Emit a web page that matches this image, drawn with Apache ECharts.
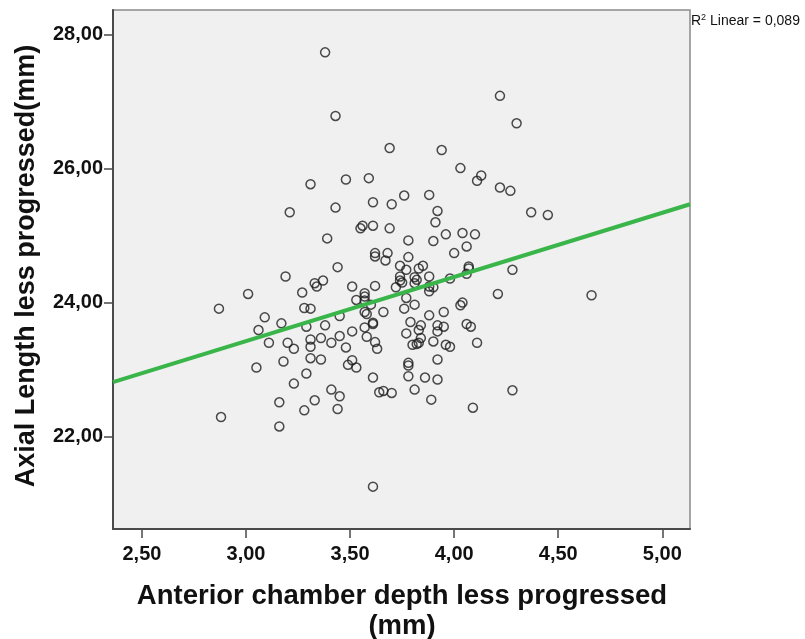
<!DOCTYPE html>
<html>
<head>
<meta charset="utf-8">
<script src="https://cdn.jsdelivr.net/npm/echarts@6/dist/echarts.min.js"></script>
<style>
  html, body { margin: 0; padding: 0; background: #ffffff; }
  #chart { width: 805px; height: 639px; }
</style>
</head>
<body>
<div id="chart"></div>
<script>
// Anterior chamber depth (mm) per eye
const acdDepth = [
  3.38, 3.43, 4.22, 4.30, 3.69, 3.94, 4.03, 4.13, 4.11, 3.48,
  3.59, 3.31, 4.22, 4.27, 4.37, 4.45, 3.21, 3.43, 3.61, 3.70,
  3.76, 3.88, 3.92, 3.91, 3.39, 3.55, 3.56, 3.61, 3.69, 3.78,
  3.90, 3.96, 4.04, 4.10, 4.06, 4.00, 3.62, 3.62, 3.68, 3.67,
  3.78, 3.44, 3.74, 3.77, 3.83, 3.85, 3.74, 3.74, 3.81, 3.82,
  3.88, 3.72, 3.75, 3.81, 3.88, 3.90, 3.88, 3.98, 4.07, 4.07,
  4.06, 4.28, 3.19, 3.33, 3.37, 3.34, 3.51, 3.62, 3.01, 3.27,
  3.57, 3.57, 3.53, 3.57, 3.60, 3.77, 3.76, 3.81, 3.57, 3.58,
  3.66, 3.88, 3.95, 4.03, 4.04, 4.21, 4.66, 2.87, 3.28, 3.31,
  3.09, 3.17, 3.29, 3.38, 3.45, 3.06, 3.61, 3.61, 3.57, 3.51,
  3.79, 3.84, 3.83, 3.77, 3.92, 3.95, 3.92, 4.06, 4.08, 3.11,
  3.20, 3.31, 3.36, 3.45, 3.41, 3.23, 3.31, 3.48, 3.58, 3.62,
  3.63, 3.18, 3.31, 3.36, 3.49, 3.51, 3.53, 3.05, 3.29, 3.23,
  3.41, 3.45, 3.16, 3.33, 3.28, 3.44, 2.88, 3.16, 3.61, 3.64,
  3.66, 3.70, 3.78, 3.78, 3.78, 3.81, 3.86, 3.92, 3.92, 3.89,
  3.80, 3.82, 3.83, 3.90, 3.96, 3.98, 4.11, 4.09, 4.28, 3.61,
  3.84
];

// Axial length (mm) for the same eyes
const axialLength = [
  27.74, 26.79, 27.09, 26.68, 26.31, 26.28, 26.01, 25.90, 25.82, 25.84,
  25.86, 25.77, 25.72, 25.67, 25.35, 25.31, 25.35, 25.42, 25.50, 25.47,
  25.60, 25.61, 25.37, 25.20, 24.96, 25.11, 25.15, 25.15, 25.11, 24.93,
  24.92, 25.02, 25.04, 25.02, 24.84, 24.74, 24.74, 24.69, 24.74, 24.63,
  24.68, 24.53, 24.55, 24.49, 24.51, 24.55, 24.39, 24.33, 24.38, 24.34,
  24.39, 24.23, 24.30, 24.29, 24.24, 24.23, 24.17, 24.36, 24.54, 24.51,
  24.43, 24.49, 24.39, 24.29, 24.33, 24.24, 24.24, 24.25, 24.13, 24.15,
  24.14, 24.09, 24.04, 24.03, 23.97, 24.07, 23.91, 23.97, 23.86, 23.83,
  23.86, 23.81, 23.86, 23.96, 24.00, 24.13, 24.11, 23.91, 23.92, 23.91,
  23.78, 23.69, 23.64, 23.66, 23.80, 23.59, 23.70, 23.68, 23.63, 23.57,
  23.71, 23.66, 23.59, 23.54, 23.66, 23.64, 23.57, 23.68, 23.64, 23.40,
  23.40, 23.45, 23.47, 23.50, 23.40, 23.31, 23.34, 23.33, 23.49, 23.41,
  23.31, 23.12, 23.17, 23.15, 23.07, 23.14, 23.03, 23.03, 22.94, 22.79,
  22.70, 22.60, 22.51, 22.54, 22.39, 22.41, 22.29, 22.15, 22.88, 22.66,
  22.68, 22.65, 23.10, 23.06, 22.90, 22.70, 22.88, 23.15, 22.85, 22.55,
  23.37, 23.38, 23.40, 23.42, 23.37, 23.34, 23.40, 22.43, 22.69, 21.25,
  23.47
];

// Axis ranges and tick labels
const xRange = [2.361, 5.133];
const yRange = [20.617, 28.373];
const xTicks = [2.5, 3.0, 3.5, 4.0, 4.5, 5.0];
const yTicks = [22, 24, 26, 28];

// Linear fit: axial = intercept + slope * acd
const fitIntercept = 20.548;
const fitSlope = 0.959;
const rSquaredText = '0,089';

const points = acdDepth.map((x, i) => [x, axialLength[i]]);
const fitLine = xRange.map(x => [x, fitIntercept + fitSlope * x]);

const FONT = 'Arial, "Liberation Sans", Helvetica, sans-serif';
const fmt = v => Number(v).toFixed(2).replace('.', ',');

const chart = echarts.init(document.getElementById('chart'), null, { renderer: 'canvas' });

chart.setOption({
  animation: false,
  backgroundColor: '#ffffff',
  grid: {
    left: 113, right: 115, top: 10, bottom: 110,
    show: true,
    backgroundColor: '#f0f0f0',
    borderColor: '#8a8a8a',
    borderWidth: 1.5
  },
  xAxis: {
    type: 'value',
    min: xRange[0],
    max: xRange[1],
    axisLine: { show: true, onZero: false, lineStyle: { color: '#4a4a4a', width: 2 } },
    axisTick: { show: true, length: 9, customValues: xTicks, lineStyle: { color: '#4a4a4a', width: 1.5 } },
    axisLabel: {
      customValues: xTicks,
      formatter: fmt,
      margin: 15,
      color: '#111',
      fontFamily: FONT,
      fontWeight: 'bold',
      fontSize: 20
    },
    splitLine: { show: false }
  },
  yAxis: {
    type: 'value',
    min: yRange[0],
    max: yRange[1],
    axisLine: { show: true, onZero: false, lineStyle: { color: '#4a4a4a', width: 2 } },
    axisTick: { show: true, length: 9, customValues: yTicks, lineStyle: { color: '#4a4a4a', width: 1.5 } },
    axisLabel: {
      customValues: yTicks,
      formatter: fmt,
      margin: 10,
      color: '#111',
      fontFamily: FONT,
      fontWeight: 'bold',
      fontSize: 20
    },
    splitLine: { show: false }
  },
  graphic: [
    {
      type: 'text',
      x: 27, y: 266,
      rotation: Math.PI / 2,
      style: {
        text: 'Axial Length less progressed(mm)',
        font: 'bold 27px ' + FONT,
        fill: '#111',
        align: 'center', verticalAlign: 'middle',
        textAlign: 'center', textVerticalAlign: 'middle'
      }
    },
    {
      type: 'text',
      x: 402, y: 611,
      style: {
        text: 'Anterior chamber depth less progressed\n(mm)',
        font: 'bold 27.5px ' + FONT,
        lineHeight: 30,
        fill: '#111',
        align: 'center', verticalAlign: 'middle',
        textAlign: 'center', textVerticalAlign: 'middle'
      }
    },
    {
      type: 'text',
      x: 691, y: 21,
      style: {
        text: '{a|R}{s|2}{a| Linear = ' + rSquaredText + '}',
        rich: {
          a: { fontFamily: FONT, fontSize: 14, fill: '#111', color: '#111' },
          s: { fontFamily: FONT, fontSize: 9, fill: '#111', color: '#111', padding: [0, 0, 7, 0] }
        },
        fill: '#111',
        align: 'left', verticalAlign: 'middle',
        textAlign: 'left', textVerticalAlign: 'middle'
      }
    }
  ],
  series: [
    {
      type: 'scatter',
      data: points,
      symbol: 'circle',
      symbolSize: 9,
      itemStyle: { color: 'rgba(0,0,0,0)', borderColor: '#1e1e1e', borderWidth: 1.5 },
      z: 2
    },
    {
      type: 'line',
      data: fitLine,
      showSymbol: false,
      clip: true,
      lineStyle: { color: '#39b54a', width: 4 },
      z: 3
    }
  ]
});
</script>
</body>
</html>
